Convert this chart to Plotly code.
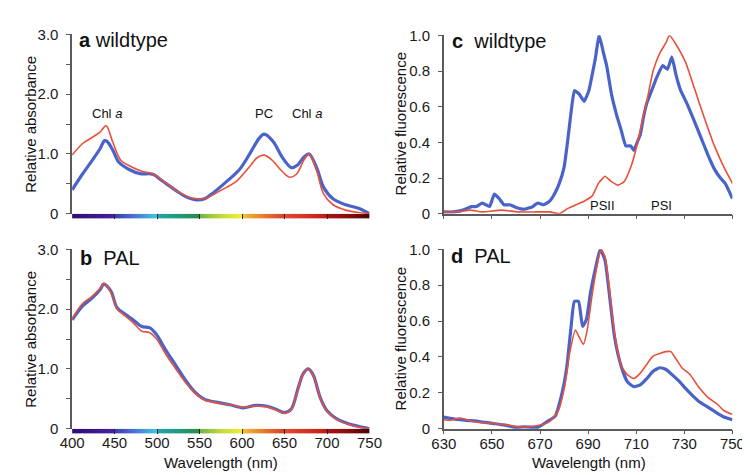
import plotly.graph_objects as go

# ---------------- data ----------------
# Panel a: wildtype absorbance
a_wl_blue = [400, 412, 423, 433, 438, 441, 448, 455, 467, 480, 495, 506, 522, 533, 546, 556, 567,
             582, 597, 609, 620, 626, 637, 647, 658, 665, 673, 679, 688, 696, 707, 722, 737, 750]
a_blue = [0.40, 0.66, 0.88, 1.09, 1.22, 1.21, 1.06, 0.86, 0.74, 0.67, 0.66, 0.55, 0.39, 0.29, 0.23,
          0.25, 0.36, 0.54, 0.74, 1.00, 1.26, 1.33, 1.20, 0.95, 0.77, 0.81, 0.95, 1.00, 0.76, 0.44,
          0.25, 0.15, 0.09, 0.00]
a_wl_red = [400, 412, 423, 433, 440, 448, 457, 469, 482, 495, 506, 522, 537, 548, 559, 575, 594,
            609, 618, 626, 635, 647, 656, 664, 673, 679, 688, 696, 707, 722, 737, 750]
a_red = [0.98, 1.17, 1.27, 1.37, 1.47, 1.19, 0.90, 0.79, 0.71, 0.67, 0.56, 0.39, 0.28, 0.25, 0.27,
         0.39, 0.55, 0.79, 0.94, 0.98, 0.90, 0.71, 0.61, 0.66, 0.90, 1.00, 0.71, 0.33, 0.15, 0.06,
         0.02, 0.00]

# Panel b: PAL absorbance
b_wl = [400, 412, 423, 433, 437, 440, 446, 453, 463, 472, 482, 491, 499, 510, 522, 533, 544, 556,
        571, 586, 601, 616, 628, 639, 650, 658, 666, 672, 678, 684, 692, 700, 711, 726, 737, 750]
b_blue = [1.82, 2.05, 2.18, 2.33, 2.42, 2.40, 2.29, 2.02, 1.91, 1.82, 1.71, 1.69, 1.58, 1.32, 1.06,
          0.82, 0.62, 0.49, 0.44, 0.40, 0.35, 0.39, 0.38, 0.33, 0.27, 0.33, 0.68, 0.92, 1.00, 0.89,
          0.52, 0.30, 0.17, 0.08, 0.04, 0.00]
b_red = [1.84, 2.09, 2.21, 2.35, 2.43, 2.41, 2.27, 2.00, 1.88, 1.77, 1.63, 1.61, 1.51, 1.25, 1.00,
         0.78, 0.60, 0.48, 0.43, 0.40, 0.36, 0.38, 0.37, 0.32, 0.26, 0.32, 0.67, 0.92, 1.00, 0.89,
         0.51, 0.29, 0.16, 0.07, 0.03, 0.00]

# Panel c: wildtype fluorescence
c_wl_blue = [630, 634, 638, 641.5, 643.5, 646, 649, 651, 653, 655, 657.5, 660, 663.5, 667, 669,
             671.6, 674, 676, 678, 680, 681.6, 683, 684.3, 686.3, 688.3, 690.3, 691.7, 693, 694.6,
             696.4, 697.7, 699.7, 701.7, 703.7, 705.7, 707.7, 709, 710.4, 711.7, 713, 714.4, 716.4,
             718.4, 721, 723, 724.8, 726.5, 728.5, 731, 733.8, 736.5, 739.8, 742.5, 745, 747, 750]
c_blue = [0.01, 0.01, 0.02, 0.04, 0.04, 0.06, 0.04, 0.11, 0.085, 0.05, 0.05, 0.035, 0.025, 0.04,
          0.06, 0.05, 0.07, 0.11, 0.17, 0.26, 0.42, 0.58, 0.69, 0.67, 0.63, 0.69, 0.78, 0.87, 1.00,
          0.90, 0.83, 0.67, 0.56, 0.47, 0.38, 0.38, 0.355, 0.40, 0.445, 0.54, 0.62, 0.69, 0.76, 0.83,
          0.81, 0.88, 0.78, 0.69, 0.62, 0.53, 0.44, 0.33, 0.25, 0.20, 0.17, 0.085]
c_wl_red = [630, 635.5, 641, 646, 654, 661, 669, 674, 678, 681.6, 685, 688.3, 691.7, 694.3, 697,
            699.7, 702.4, 705, 707.7, 709.7, 711.7, 714.4, 717, 719.8, 722.4, 723.8, 726.5, 730.5,
            734.5, 738.5, 742.5, 746.5, 750]
c_red = [0.01, 0.01, 0.02, 0.01, 0.02, 0.01, 0.01, 0.01, 0.00, 0.03, 0.05, 0.07, 0.10, 0.17, 0.21,
         0.18, 0.16, 0.18, 0.26, 0.35, 0.47, 0.63, 0.80, 0.90, 0.96, 1.00, 0.95, 0.85, 0.69, 0.53,
         0.38, 0.26, 0.17]

# Panel d: PAL fluorescence
d_wl_blue = [630, 634, 639.5, 644.8, 650, 655.5, 659.6, 663.6, 669, 673, 676.3, 679, 681, 683, 684.3,
             686, 687.7, 689.3, 691, 693, 695, 697, 699, 701, 703.7, 706.4, 709, 711.7, 714.4, 717,
             719.8, 722.4, 725, 727.8, 730.5, 733, 735.8, 739.8, 743.8, 746.5, 750]
d_blue = [0.065, 0.055, 0.047, 0.04, 0.03, 0.02, 0.007, 0.01, 0.007, 0.04, 0.07, 0.19, 0.33, 0.58,
          0.71, 0.71, 0.57, 0.61, 0.76, 0.89, 1.00, 0.94, 0.73, 0.51, 0.35, 0.26, 0.235, 0.245, 0.28,
          0.32, 0.34, 0.33, 0.30, 0.265, 0.225, 0.19, 0.155, 0.12, 0.086, 0.065, 0.05]
d_wl_red = [630, 632.8, 636.8, 642, 649, 655.5, 662, 669, 674, 677.6, 680.3, 682.3, 684.7, 686.3, 688,
            689.6, 691.7, 693.7, 695.3, 697, 699, 701, 703.7, 706.4, 709, 711.7, 714.4, 717, 719.8,
            722.4, 724.4, 726.5, 729, 732.5, 735.8, 739.8, 743.8, 746.5, 750]
d_red = [0.05, 0.047, 0.06, 0.04, 0.03, 0.023, 0.01, 0.018, 0.04, 0.10, 0.24, 0.42, 0.55, 0.51, 0.47,
         0.55, 0.75, 0.91, 1.00, 0.96, 0.76, 0.53, 0.35, 0.30, 0.28, 0.31, 0.36, 0.405, 0.42, 0.43,
         0.43, 0.39, 0.34, 0.30, 0.235, 0.175, 0.136, 0.10, 0.08]

# Spectrum colour bar (wavelength -> colour)
spectrum_nm = list(range(400, 751))
spectrum_stops = [(400, "#2a1070"), (449, "#4a1fa0"), (450, "#3a3aa8"), (470, "#4a6ad0"),
                  (499, "#40c4e4"), (500, "#22a4aa"), (525, "#1e9a80"), (549, "#2a8a48"),
                  (550, "#6cb444"), (575, "#c4d838"), (599, "#f0ee38"), (600, "#f2c232"),
                  (625, "#e87a2c"), (649, "#d64428"), (650, "#e24a30"), (675, "#d43222"),
                  (699, "#c01c18"), (700, "#a81212"), (725, "#8a0c0c"), (750, "#4a0404")]

abs_ticks = [0, 0.5, 1.0, 1.5, 2.0, 2.5, 3.0]
abs_ticktext = ["0", "", "1.0", "", "2.0", "", "3.0"]
fl_ticks = [0, 0.2, 0.4, 0.6, 0.8, 1.0]
fl_ticktext = ["0", "0.2", "0.4", "0.6", "0.8", "1.0"]
abs_xticks = [400, 450, 500, 550, 600, 650, 700, 750]
fl_xticks = [630, 650, 670, 690, 710, 730, 750]

# ---------------- styling ----------------
W, H = 750, 475
BLUE = "#4a63c8"
RED = "#e8503a"
AXC = "#5a5a5a"
FONT = "Liberation Sans, Arial, sans-serif"


def px_x(a, b):
    return [a / W, b / W]


def px_y(top, bottom):
    return [1 - bottom / H, 1 - top / H]


fig = go.Figure()

colorscale = [[(nm - 400) / 350, c] for nm, c in spectrum_stops]


def add_lines(xw_b, yb, xw_r, yr, xa, ya, smooth):
    fig.add_trace(go.Scatter(x=xw_b, y=yb, mode="lines",
                             line=dict(color=BLUE, width=3.2, shape="spline", smoothing=smooth),
                             xaxis=xa, yaxis=ya, showlegend=False, hoverinfo="skip"))
    fig.add_trace(go.Scatter(x=xw_r, y=yr, mode="lines",
                             line=dict(color=RED, width=1.6, shape="spline", smoothing=smooth),
                             xaxis=xa, yaxis=ya, showlegend=False, hoverinfo="skip"))


def add_bar(xa, ya):
    fig.add_trace(go.Heatmap(x=spectrum_nm, y=[0.5], z=[spectrum_nm], zmin=400, zmax=750,
                             colorscale=colorscale, showscale=False, hoverinfo="skip",
                             xaxis=xa, yaxis=ya))


add_lines(a_wl_blue, a_blue, a_wl_red, a_red, "x", "y", 0.9)
add_bar("x2", "y2")
add_lines(b_wl, b_blue, b_wl, b_red, "x3", "y3", 0.9)
add_bar("x4", "y4")
add_lines(c_wl_blue, c_blue, c_wl_red, c_red, "x5", "y5", 0.4)
add_lines(d_wl_blue, d_blue, d_wl_red, d_red, "x6", "y6", 0.5)

tickfont = dict(family=FONT, size=15, color="#1a1a1a")

left_x = px_x(53, 361)
right_x = px_x(438, 737)
a_y = px_y(18, 204)
a_bar = px_y(204, 209)
b_y = px_y(241, 427)
b_bar = px_y(427, 432)
c_y = px_y(19, 204)
d_y = px_y(241, 427)

common_y = dict(showgrid=False, zeroline=False, showline=True, linecolor=AXC, linewidth=1.5,
                ticks="outside", ticklen=4, tickcolor=AXC, tickwidth=1.2, tickfont=tickfont,
                ticklabelstandoff=5)

layout = dict(
    width=W, height=H, margin=dict(l=0, r=0, t=0, b=0),
    paper_bgcolor="white", plot_bgcolor="rgba(0,0,0,0)",
    font=dict(family=FONT, color="#1a1a1a"),
    # panel a
    xaxis=dict(domain=left_x, range=[400, 750], anchor="y", showgrid=False, zeroline=False,
               showline=False, showticklabels=False, ticks=""),
    yaxis=dict(domain=a_y, range=[0, 3.0], anchor="x", tickvals=abs_ticks, ticktext=abs_ticktext,
               **common_y),
    xaxis2=dict(domain=left_x, range=[400, 750], anchor="y2", showgrid=False, zeroline=False,
                showline=False, showticklabels=False, ticks="inside", ticklen=5, tickcolor="#222",
                tickwidth=1, tickvals=abs_xticks),
    yaxis2=dict(domain=a_bar, range=[0, 1], anchor="x2", visible=False),
    # panel b
    xaxis3=dict(domain=left_x, range=[400, 750], anchor="y3", showgrid=False, zeroline=False,
                showline=False, showticklabels=False, ticks=""),
    yaxis3=dict(domain=b_y, range=[0, 3.0], anchor="x3", tickvals=abs_ticks, ticktext=abs_ticktext,
                **common_y),
    xaxis4=dict(domain=left_x, range=[400, 750], anchor="y4", showgrid=False, zeroline=False,
                showline=False, showticklabels=True, ticks="inside", ticklen=5, tickcolor="#222",
                tickwidth=1, tickvals=abs_xticks, tickfont=tickfont, ticklabelstandoff=-2),
    yaxis4=dict(domain=b_bar, range=[0, 1], anchor="x4", visible=False),
    # panel c
    xaxis5=dict(domain=right_x, range=[630, 750], anchor="y5", showgrid=False, zeroline=False,
                showline=True, linecolor=AXC, linewidth=1.5, ticks="outside", ticklen=4,
                tickcolor=AXC, tickwidth=1.2, tickvals=fl_xticks, showticklabels=False),
    yaxis5=dict(domain=c_y, range=[0, 1.0], anchor="x5", tickvals=fl_ticks, ticktext=fl_ticktext,
                **common_y),
    # panel d
    xaxis6=dict(domain=right_x, range=[630, 750], anchor="y6", showgrid=False, zeroline=False,
                showline=True, linecolor=AXC, linewidth=1.5, ticks="outside", ticklen=4,
                tickcolor=AXC, tickwidth=1.2, tickvals=fl_xticks, tickfont=tickfont,
                ticklabelstandoff=-3),
    yaxis6=dict(domain=d_y, range=[0, 1.0], anchor="x6", tickvals=fl_ticks, ticktext=fl_ticktext,
                **common_y),
)
fig.update_layout(**layout)


def ann(text, x, y, size, angle=0, xanchor="center"):
    fig.add_annotation(text=text, x=x / W, y=1 - y / H, xref="paper", yref="paper",
                       showarrow=False, xanchor=xanchor, yanchor="middle", textangle=angle,
                       font=dict(family=FONT, size=size, color="#111"))


# panel labels
ann("<b>a</b> wildtype", 58, 24, 20, xanchor="left")
ann("<b>b</b>&nbsp;&nbsp;PAL", 59, 250, 20, xanchor="left")
ann("<b>c</b>&nbsp;&nbsp;wildtype", 444, 25, 20, xanchor="left")
ann("<b>d</b>&nbsp;&nbsp;PAL", 443, 248, 20, xanchor="left")

# axis titles
ann("Relative absorbance", 9, 111, 15, angle=-90)
ann("Relative absorbance", 9, 334, 15, angle=-90)
ann("Relative fluorescence", 393, 111, 15, angle=-90)
ann("Relative fluorescence", 393, 334, 15, angle=-90)
ann("Wavelength (nm)", 207, 462, 15)
ann("Wavelength (nm)", 588, 462, 15)

# peak labels
ann("Chl <i>a</i>", 89, 100, 13)
ann("PC", 252, 100, 13)
ann("Chl <i>a</i>", 296, 100, 13)
ann("PSII", 602, 195, 13)
ann("PSI", 664, 195, 13)

fig.write_html("out.html")
